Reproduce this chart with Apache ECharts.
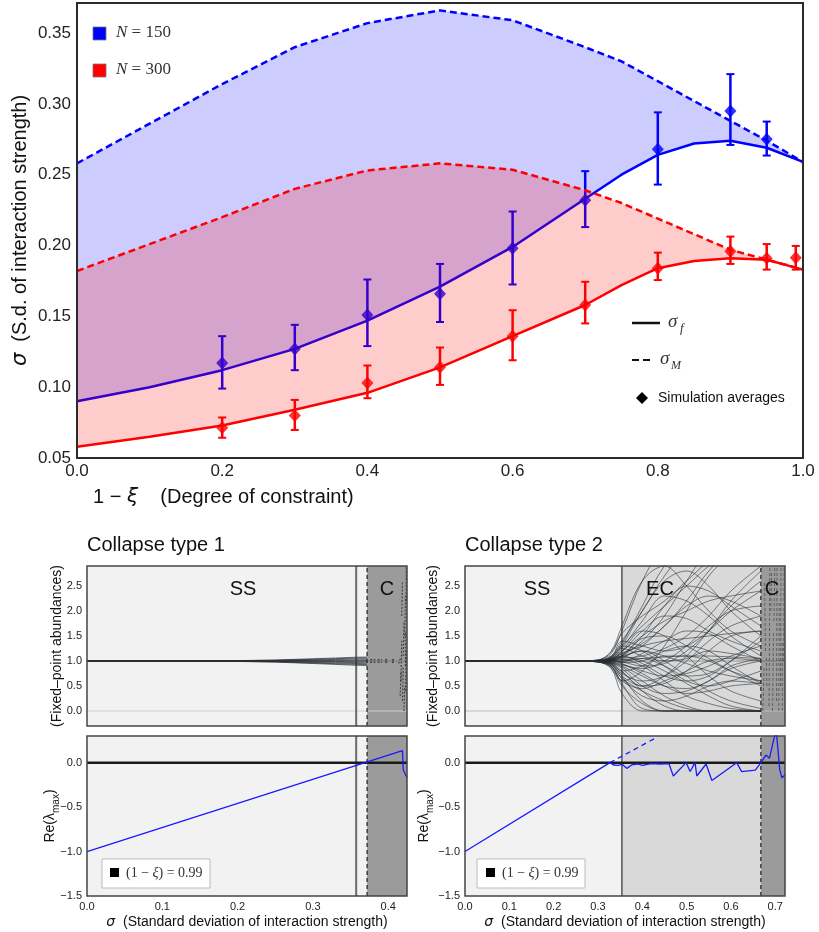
<!DOCTYPE html>
<html><head><meta charset="utf-8">
<script src="https://cdn.jsdelivr.net/npm/echarts@6/dist/echarts.min.js"></script>
<style>html,body{margin:0;padding:0;background:#fff}#c{width:819px;height:932px}</style>
</head><body><div id="c"></div>
<script>
// ---------- Top chart data ----------
const topX    = [0, 0.1, 0.2, 0.3, 0.4, 0.5, 0.6, 0.7, 0.75, 0.8, 0.85, 0.9, 0.95, 1.0];
const sigF150 = [0.090, 0.100, 0.112, 0.127, 0.147, 0.171, 0.199, 0.233, 0.250, 0.264, 0.272, 0.274, 0.269, 0.259];
const sigM150 = [0.258, 0.286, 0.314, 0.340, 0.357, 0.366, 0.359, 0.340, 0.330, 0.316, 0.302, 0.288, 0.274, 0.259];
const sigF300 = [0.058, 0.065, 0.073, 0.084, 0.096, 0.114, 0.136, 0.158, 0.172, 0.184, 0.189, 0.191, 0.190, 0.183];
const sigM300 = [0.182, 0.201, 0.220, 0.240, 0.253, 0.258, 0.2535, 0.239, 0.230, 0.219, 0.208, 0.197, 0.190, 0.183];

const simX150  = [0.2, 0.3, 0.4, 0.5, 0.6, 0.7, 0.8, 0.9, 0.95];
const sim150   = [0.117, 0.127, 0.151, 0.166, 0.198, 0.232, 0.268, 0.295, 0.275];
const sim150Lo = [0.099, 0.112, 0.129, 0.146, 0.1725, 0.213, 0.243, 0.271, 0.2635];
const sim150Hi = [0.136, 0.144, 0.176, 0.187, 0.224, 0.2525, 0.294, 0.321, 0.2875];

const simX300  = [0.2, 0.3, 0.4, 0.5, 0.6, 0.7, 0.8, 0.9, 0.95, 0.99];
const sim300   = [0.0714, 0.080, 0.103, 0.114, 0.136, 0.158, 0.184, 0.196, 0.191, 0.1914];
const sim300Lo = [0.0643, 0.0698, 0.0922, 0.1016, 0.119, 0.145, 0.1756, 0.187, 0.183, 0.183];
const sim300Hi = [0.0786, 0.091, 0.1153, 0.128, 0.1543, 0.1744, 0.195, 0.2063, 0.201, 0.1997];

const topYTicks = [0.05, 0.10, 0.15, 0.20, 0.25, 0.30, 0.35];
const topXTicks = [0, 0.2, 0.4, 0.6, 0.8, 1.0];

// ---------- Collapse type 1 ----------
const c1Bounds = [0.3575, 0.372];
const c1XMax = 0.425;
const bundle1X = [0, 0.1, 0.2, 0.25, 0.3, 0.33, 0.3575, 0.372];
const bundle1 = [
  [1, 1, 1.008, 1.020, 1.045, 1.060, 1.075, 1.080],
  [1, 1, 1.006, 1.015, 1.034, 1.046, 1.058, 1.062],
  [1, 1, 1.004, 1.010, 1.022, 1.031, 1.040, 1.044],
  [1, 1, 1.002, 1.005, 1.011, 1.016, 1.021, 1.023],
  [1, 1, 1.001, 1.001, 1.002, 1.003, 1.004, 1.005],
  [1, 1, 0.999, 0.997, 0.993, 0.990, 0.987, 0.986],
  [1, 1, 0.997, 0.992, 0.982, 0.975, 0.968, 0.965],
  [1, 1, 0.995, 0.987, 0.970, 0.960, 0.950, 0.946],
  [1, 1, 0.993, 0.983, 0.960, 0.946, 0.933, 0.928],
  [1, 1, 0.991, 0.978, 0.950, 0.932, 0.915, 0.910]
];
// collapsed-region marks [x0, y0, x1, y1]
const c1Marks = [
  [0.376, 0.97, 0.383, 0.97], [0.376, 1.0, 0.383, 1.0], [0.376, 1.03, 0.383, 1.03],
  [0.386, 0.97, 0.392, 0.97], [0.386, 1.0, 0.392, 1.0], [0.386, 1.03, 0.392, 1.03],
  [0.396, 0.97, 0.400, 0.97], [0.396, 1.0, 0.400, 1.0], [0.396, 1.03, 0.400, 1.03],
  [0.405, 0.97, 0.409, 0.97], [0.405, 1.0, 0.409, 1.0], [0.405, 1.03, 0.409, 1.03],
  [0.414, 0.95, 0.416, 1.05], [0.417, 0.6, 0.418, 1.4], [0.419, 0.2, 0.420, 0.9],
  [0.420, 1.1, 0.421, 1.8], [0.421, 0.0, 0.422, 0.5], [0.422, 1.5, 0.423, 2.3],
  [0.423, 0.4, 0.424, 1.2], [0.418, 1.9, 0.419, 2.6], [0.424, 2.2, 0.424, 2.9],
  [0.416, 0.3, 0.417, 0.8], [0.423, 0.9, 0.423, 1.6]
];
const lam1X = [0, 0.419, 0.420, 0.425];
const lam1Y = [-1.0, 0.135, -0.08, -0.17];

// ---------- Collapse type 2 ----------
const c2Bounds = [0.354, 0.6675];
const c2XMax = 0.722;
const fan2X = [0, 0.25, 0.30, 0.33, 0.354, 0.40, 0.45, 0.50, 0.55, 0.60, 0.6675];
const fan2 = [
  [1, 1, 1.02, 1.15, 1.60, 2.60, 3.30, 3.5, 3.5, 3.5, 3.5],
  [1, 1, 1.01, 1.10, 1.40, 2.00, 2.70, 3.2, 3.3, 3.3, 3.3],
  [1, 1, 1.01, 1.08, 1.30, 1.70, 2.10, 2.5, 2.9, 3.2, 3.3],
  [1, 1, 1.01, 1.06, 1.20, 1.50, 1.80, 2.0, 2.2, 2.3, 2.4],
  [1, 1, 1.00, 1.05, 1.15, 1.30, 1.40, 1.45, 1.5, 1.55, 1.6],
  [1, 1, 1.00, 1.04, 1.10, 1.20, 1.10, 0.95, 0.8, 0.7, 0.6],
  [1, 1, 1.00, 1.03, 1.08, 1.00, 0.80, 0.55, 0.3, 0.1, 0],
  [1, 1, 1.00, 1.02, 1.05, 1.10, 1.25, 1.5, 1.9, 2.4, 2.9],
  [1, 1, 1.00, 1.01, 1.02, 1.05, 1.08, 1.1, 1.1, 1.08, 1.05],
  [1, 1, 1.00, 0.99, 0.98, 0.90, 0.95, 1.2, 1.6, 2.1, 2.6],
  [1, 1, 1.00, 0.98, 0.94, 0.80, 0.70, 0.75, 0.9, 1.1, 1.3],
  [1, 1, 0.99, 0.96, 0.88, 0.60, 0.30, 0.1, 0, 0, 0],
  [1, 1, 0.99, 0.95, 0.80, 0.40, 0.10, 0, 0, 0, 0],
  [1, 1, 0.99, 0.93, 0.70, 0.20, 0, 0, 0, 0, 0],
  [1, 1, 0.98, 0.90, 0.55, 0.05, 0, 0, 0, 0, 0],
  [1, 1, 0.98, 0.85, 0.35, 0, 0, 0, 0, 0, 0],
  [1, 1, 0.99, 0.92, 0.75, 0.60, 0.70, 1.0, 1.4, 1.7, 1.9],
  [1, 1, 1.00, 1.05, 1.25, 1.80, 2.30, 2.2, 1.9, 1.5, 1.1],
  [1, 1, 1.00, 1.07, 1.35, 2.10, 2.90, 3.3, 3.3, 3.3, 3.3],
  [1, 1, 1.00, 1.02, 1.06, 1.30, 1.70, 2.1, 2.3, 2.2, 1.9],
  [1, 1, 1.00, 1.00, 1.00, 1.15, 1.40, 1.6, 1.55, 1.3, 1.0],
  [1, 1, 1.00, 0.99, 0.97, 1.00, 1.20, 1.3, 1.2, 0.9, 0.55],
  [1, 1, 0.99, 0.97, 0.90, 0.70, 0.50, 0.45, 0.6, 0.9, 1.05],
  [1, 1, 1.00, 1.01, 1.03, 0.90, 0.60, 0.3, 0.15, 0.05, 0],
  [1, 1, 1.00, 1.02, 1.10, 1.40, 1.90, 2.6, 3.2, 3.3, 3.3],
  [1, 1, 1.00, 0.98, 0.92, 0.85, 1.00, 1.3, 1.7, 2.0, 2.1],
  [1, 1, 1.00, 1.03, 1.12, 1.45, 1.50, 1.3, 1.05, 0.8, 0.5],
  [1, 1, 0.99, 0.96, 0.85, 0.50, 0.35, 0.4, 0.6, 0.85, 1.0],
  [1, 1, 1.00, 1.04, 1.18, 1.60, 1.90, 1.85, 1.6, 1.4, 1.2],
  [1, 1, 1.00, 1.00, 0.99, 1.05, 0.90, 0.7, 0.75, 1.0, 1.4],
  [1, 1, 0.99, 0.94, 0.78, 0.50, 0.55, 0.8, 1.2, 1.5, 1.6],
  [1, 1, 1.00, 1.02, 1.08, 1.20, 1.00, 0.7, 0.4, 0.2, 0.05],
  [1, 1, 1.02, 1.20, 1.70, 2.60, 2.90, 2.5, 2.0, 1.6, 1.3],
  [1, 1, 1.00, 1.05, 1.30, 2.00, 2.60, 2.8, 2.5, 2.0, 1.5],
  [1, 1, 0.99, 0.90, 0.60, 0.80, 1.30, 2.0, 2.7, 3.1, 3.3],
  [1, 1, 0.99, 0.95, 0.70, 0.50, 0.70, 1.1, 1.6, 2.2, 2.8],
  [1, 1, 1.01, 1.10, 1.30, 1.20, 0.90, 0.6, 0.5, 0.6, 0.8],
  [1, 1, 1.00, 1.02, 1.20, 1.60, 1.50, 1.1, 0.7, 0.4, 0.2],
  [1, 1, 0.98, 0.88, 0.60, 0.45, 0.60, 0.8, 1.0, 1.05, 1.0],
  [1, 1, 1.00, 1.06, 1.40, 1.30, 1.20, 1.3, 1.6, 2.0, 2.4],
  [1, 1, 1.00, 1.03, 1.15, 1.35, 1.70, 2.2, 2.8, 3.2, 3.3],
  [1, 1, 0.99, 0.97, 0.80, 0.90, 1.10, 1.1, 1.0, 0.8, 0.6],
  [1, 1, 1.00, 1.00, 1.10, 1.50, 2.10, 2.5, 2.4, 2.1, 1.7],
  [1, 1, 0.99, 0.93, 0.65, 0.30, 0.20, 0.3, 0.5, 0.6, 0.55],
  [1, 1, 1.01, 1.08, 1.25, 1.10, 1.00, 1.05, 1.2, 1.15, 1.05],
  [1, 1, 1.00, 1.02, 0.95, 0.75, 0.50, 0.35, 0.4, 0.5, 0.55],
  [1, 1, 1.02, 1.18, 1.55, 1.90, 2.20, 2.6, 3.0, 3.3, 3.3],
  [1, 1, 0.98, 0.86, 0.50, 0.15, 0, 0, 0, 0, 0],
  [1, 1, 0.99, 0.90, 0.65, 0.40, 0.20, 0.05, 0, 0, 0],
  [1, 1, 1.00, 1.04, 1.10, 0.95, 0.70, 0.6, 0.7, 1.0, 1.5]
];
const c2Marks = [
  [0.672, 0.0, 0.675, 0.9], [0.678, 1.2, 0.676, 2.6], [0.686, 0.1, 0.688, 2.9],
  [0.694, 0.0, 0.696, 1.6], [0.697, 1.8, 0.699, 2.9], [0.703, 0.2, 0.704, 2.9],
  [0.708, 0.0, 0.709, 2.2], [0.712, 0.5, 0.713, 2.9], [0.716, 0.0, 0.716, 1.4],
  [0.719, 1.0, 0.720, 2.9], [0.681, 0.5, 0.680, 1.1], [0.690, 2.0, 0.692, 2.8]
];
const lam2X = [0, 0.327, 0.335, 0.345, 0.355, 0.365, 0.376, 0.39, 0.40, 0.42, 0.44, 0.46, 0.470, 0.499, 0.508, 0.519, 0.523, 0.544, 0.557, 0.613, 0.624, 0.655, 0.666, 0.679, 0.687, 0.698, 0.703, 0.71, 0.715, 0.722];
const lam2Y = [-1.0, 0.0, -0.026, -0.03, -0.02, -0.064, -0.026, -0.015, -0.03, -0.01, -0.015, -0.01, -0.15, 0.0, -0.10, 0.0, -0.15, -0.015, -0.20, 0.0, -0.10, -0.085, -0.01, 0.085, 0.05, 0.29, 0.32, -0.075, -0.17, -0.14];
const lam2DashX = [0.327, 0.431];
const lam2DashY = [0.0, 0.28];

const upperYTicks = [0, 0.5, 1.0, 1.5, 2.0, 2.5];
const lowerYTicks = [-1.5, -1.0, -0.5, 0.0];
const c1XTicks = [0, 0.1, 0.2, 0.3, 0.4];
const c2XTicks = [0, 0.1, 0.2, 0.3, 0.4, 0.5, 0.6, 0.7];

// ---------- helpers ----------
const SANS = 'Liberation Sans, Arial, sans-serif';
const SERIF = 'Liberation Serif, DejaVu Serif, serif';
const zip = (xs, ys) => xs.map((x, i) => [x, ys[i]]);
const fmt1 = v => (v < 0 ? '\u2212' : '') + Math.abs(v).toFixed(1);

function band(xs, lo, hi, color, z) {
  return { type: 'custom', xAxisIndex: 0, yAxisIndex: 0, silent: true, z: z,
    data: [[xs[0], lo[0]]],
    renderItem: function (p, api) {
      const pts = [];
      for (let i = 0; i < xs.length; i++) pts.push(api.coord([xs[i], hi[i]]));
      for (let i = xs.length - 1; i >= 0; i--) pts.push(api.coord([xs[i], lo[i]]));
      return { type: 'polygon', shape: { points: pts }, style: { fill: color } };
    } };
}
function errBars(xs, lo, hi, color, z) {
  return { type: 'custom', xAxisIndex: 0, yAxisIndex: 0, silent: true, z: z,
    data: xs.map((x, i) => [x, lo[i], hi[i]]), encode: { x: 0, y: [1, 2] },
    renderItem: function (p, api) {
      const a = api.coord([api.value(0), api.value(1)]);
      const b = api.coord([api.value(0), api.value(2)]);
      const w = 4;
      return { type: 'group', children: [
        { type: 'line', shape: { x1: a[0], y1: a[1], x2: b[0], y2: b[1] }, style: { stroke: color, lineWidth: 2.5 } },
        { type: 'line', shape: { x1: a[0] - w, y1: a[1], x2: a[0] + w, y2: a[1] }, style: { stroke: color, lineWidth: 2 } },
        { type: 'line', shape: { x1: b[0] - w, y1: b[1], x2: b[0] + w, y2: b[1] }, style: { stroke: color, lineWidth: 2 } }
      ] };
    } };
}
function lineS(gi, xs, ys, color, width, dash, smooth, z) {
  return { type: 'line', xAxisIndex: gi, yAxisIndex: gi, data: zip(xs, ys), showSymbol: false, symbol: 'none',
    silent: true, smooth: smooth || false, clip: true, z: z || 2,
    lineStyle: { color: color, width: width, type: dash || 'solid' } };
}
function segs(gi, data, color, width, dash) {
  return { type: 'custom', xAxisIndex: gi, yAxisIndex: gi, silent: true, clip: true,
    data: data, encode: { x: [0, 2], y: [1, 3] },
    renderItem: function (p, api) {
      const a = api.coord([api.value(0), api.value(1)]);
      const b = api.coord([api.value(2), api.value(3)]);
      return { type: 'line', shape: { x1: a[0], y1: a[1], x2: b[0], y2: b[1] },
        style: { stroke: color, lineWidth: width, lineDash: dash || null } };
    } };
}
// regions [x0, x1, colour]
function regions(gi, data, ymin, ymax) {
  return { type: 'custom', xAxisIndex: gi, yAxisIndex: gi, silent: true, z: 1,
    data: data.map(d => [d[0], d[1]]), encode: { x: [0, 1] },
    renderItem: function (p, api) {
      const a = api.coord([api.value(0), ymax]);
      const b = api.coord([api.value(1), ymin]);
      return { type: 'rect', shape: { x: a[0], y: a[1], width: b[0] - a[0], height: b[1] - a[1] },
        style: { fill: data[p.dataIndex][2] } };
    } };
}

const SSc = '#f2f2f2', ECc = '#d9d9d9', Cc = '#9b9b9b';
const bundleColor = 'rgba(40,46,52,0.7)';

const grids = [
  { left: 77, top: 3, width: 726, height: 455 },
  { left: 87, top: 566, width: 320, height: 160 },
  { left: 87, top: 736, width: 320, height: 160 },
  { left: 465, top: 566, width: 320, height: 160 },
  { left: 465, top: 736, width: 320, height: 160 }
].map((g, i) => Object.assign(g, { show: true, z: 10, backgroundColor: 'transparent',
  borderColor: i === 0 ? '#2b2b2b' : '#444', borderWidth: i === 0 ? 2 : 1.5 }));

const hidden = { axisLine: { show: false }, axisTick: { show: false }, splitLine: { show: false }, nameMoveOverlap: false };
const smallLbl = { fontSize: 11, color: '#222', fontFamily: SANS, margin: 5 };
const xName = { name: '{s|σ}{t|  (Standard deviation of interaction strength)}', nameLocation: 'middle', nameGap: 19,
  nameTextStyle: { rich: { s: { fontFamily: 'DejaVu Sans', fontStyle: 'italic', fontSize: 14, color: '#111' },
    t: { fontFamily: SANS, fontSize: 14, color: '#111' } } } };

const xAxes = [
  Object.assign({ gridIndex: 0, type: 'value', min: 0, max: 1,
    axisLabel: { customValues: topXTicks, formatter: v => v.toFixed(1), fontSize: 17, color: '#222', fontFamily: SANS, margin: 5 } }, hidden),
  Object.assign({ gridIndex: 1, type: 'value', min: 0, max: c1XMax, axisLabel: { show: false } }, hidden),
  Object.assign({ gridIndex: 2, type: 'value', min: 0, max: c1XMax,
    axisLabel: Object.assign({ customValues: c1XTicks, formatter: v => v.toFixed(1) }, smallLbl) }, xName, hidden),
  Object.assign({ gridIndex: 3, type: 'value', min: 0, max: c2XMax, axisLabel: { show: false } }, hidden),
  Object.assign({ gridIndex: 4, type: 'value', min: 0, max: c2XMax,
    axisLabel: Object.assign({ customValues: c2XTicks, formatter: v => v.toFixed(1) }, smallLbl) }, xName, hidden)
];
const upperName = { name: '(Fixed\u2013point abundances)', nameLocation: 'middle', nameRotate: 90,
  nameTextStyle: { fontFamily: SANS, fontSize: 14, color: '#111' } };
const lowerName = { name: '{a|Re(λ}{b|max}{a|)}', nameLocation: 'middle', nameRotate: 90,
  nameTextStyle: { rich: { a: { fontFamily: SANS, fontSize: 14, color: '#111', lineHeight: 22, verticalAlign: 'middle' },
    b: { fontFamily: SANS, fontSize: 10, color: '#111', lineHeight: 12, verticalAlign: 'bottom' } } } };
const yAxes = [
  Object.assign({ gridIndex: 0, type: 'value', min: 0.05, max: 0.3712,
    axisLabel: { customValues: topYTicks, formatter: v => v.toFixed(2), fontSize: 17, color: '#222', fontFamily: SANS, margin: 6 },
    name: '{s|σ}{t|  (S.d. of interaction strength)}', nameLocation: 'middle', nameRotate: 90, nameGap: 46,
    nameTextStyle: { rich: { s: { fontFamily: 'DejaVu Sans', fontStyle: 'italic', fontSize: 21, color: '#111' },
      t: { fontFamily: SANS, fontSize: 20, color: '#111' } } } }, hidden),
  Object.assign({ gridIndex: 1, type: 'value', min: -0.3, max: 2.9,
    axisLabel: Object.assign({ customValues: upperYTicks, formatter: fmt1 }, smallLbl) }, upperName, hidden, { nameGap: 23 }),
  Object.assign({ gridIndex: 2, type: 'value', min: -1.5, max: 0.3,
    axisLabel: Object.assign({ customValues: lowerYTicks, formatter: fmt1 }, smallLbl) }, lowerName, hidden, { nameGap: 26 }),
  Object.assign({ gridIndex: 3, type: 'value', min: -0.3, max: 2.9,
    axisLabel: Object.assign({ customValues: upperYTicks, formatter: fmt1 }, smallLbl) }, upperName, hidden, { nameGap: 25 }),
  Object.assign({ gridIndex: 4, type: 'value', min: -1.5, max: 0.3,
    axisLabel: Object.assign({ customValues: lowerYTicks, formatter: fmt1 }, smallLbl) }, lowerName, hidden, { nameGap: 30 })
];

const series = [];
// ---- top chart (explicit z to control stacking of translucent fills) ----
series.push(band(topX, sigF150, sigM150, 'rgba(0,0,255,0.2)', 2));
series.push(lineS(0, topX, sigF150, '#0000ff', 2.5, null, false, 3));
series.push(lineS(0, topX, sigM150, '#0000ff', 2.5, [7, 4], false, 3));
series.push(errBars(simX150, sim150Lo, sim150Hi, '#0000ff', 3));
series.push({ type: 'scatter', xAxisIndex: 0, yAxisIndex: 0, data: zip(simX150, sim150), symbol: 'diamond', z: 3,
  symbolSize: [12, 13], itemStyle: { color: '#0000ff' }, silent: true });
series.push(band(topX, sigF300, sigM300, 'rgba(255,0,0,0.2)', 4));
series.push(lineS(0, topX, sigF300, '#ff0000', 2.5, null, false, 5));
series.push(lineS(0, topX, sigM300, '#ff0000', 2.5, [7, 4], false, 5));
series.push(errBars(simX300, sim300Lo, sim300Hi, '#ff0000', 5));
series.push({ type: 'scatter', xAxisIndex: 0, yAxisIndex: 0, data: zip(simX300, sim300), symbol: 'diamond', z: 5,
  symbolSize: [12, 13], itemStyle: { color: '#ff0000' }, silent: true });

// ---- collapse type 1 ----
series.push(regions(1, [[0, c1Bounds[1], SSc], [c1Bounds[1], c1XMax, Cc]], -0.3, 2.9));
series.push(regions(2, [[0, c1Bounds[1], SSc], [c1Bounds[1], c1XMax, Cc]], -1.5, 0.3));
series.push(segs(1, [[0, 0, c1XMax, 0]], '#cfcfcf', 1));
series.push(segs(1, [[0, 1, c1XMax, 1]], 'rgba(90,90,90,0.5)', 1));
bundle1.forEach(c => series.push(lineS(1, bundle1X, c, bundleColor, 1)));
series.push(segs(1, c1Marks, 'rgba(40,46,52,0.75)', 1.2, [2, 1.5]));
[1, 2].forEach(g => {
  const lo = g === 1 ? -0.3 : -1.5, hi = g === 1 ? 2.9 : 0.3;
  series.push(segs(g, [[c1Bounds[0], lo, c1Bounds[0], hi]], '#6a6a6a', 2));
  series.push(segs(g, [[c1Bounds[1], lo, c1Bounds[1], hi]], '#2a2a2a', 1.3, [4, 3]));
});
series.push(segs(2, [[0, 0, c1XMax, 0]], '#1a1a1a', 2.5));
series.push(lineS(2, lam1X, lam1Y, '#1a1aff', 1.3));

// ---- collapse type 2 ----
const r2 = [[0, c2Bounds[0], SSc], [c2Bounds[0], c2Bounds[1], ECc], [c2Bounds[1], c2XMax, Cc]];
series.push(regions(3, r2, -0.3, 2.9));
series.push(regions(4, r2, -1.5, 0.3));
series.push(segs(3, [[0, 0, c2XMax, 0]], '#bdbdbd', 1));
series.push(segs(3, [[0, 1, c2XMax, 1]], 'rgba(90,90,90,0.5)', 1));
fan2.forEach(c => series.push(lineS(3, fan2X, c, 'rgba(40,46,52,0.65)', 0.9, null, 0.35)));
series.push(segs(3, c2Marks, 'rgba(40,46,52,0.55)', 1, [3, 2]));
[3, 4].forEach(g => {
  const lo = g === 3 ? -0.3 : -1.5, hi = g === 3 ? 2.9 : 0.3;
  series.push(segs(g, [[c2Bounds[0], lo, c2Bounds[0], hi]], '#555', 1.5));
  series.push(segs(g, [[c2Bounds[1], lo, c2Bounds[1], hi]], '#2a2a2a', 1.3, [4, 3]));
});
series.push(segs(4, [[0, 0, c2XMax, 0]], '#1a1a1a', 2.5));
series.push(lineS(4, lam2X, lam2Y, '#1a1aff', 1.3));
series.push(lineS(4, lam2DashX, lam2DashY, '#1a1aff', 1.3, [5, 4]));

// ---- graphics: legends, titles, region labels ----
const T = (x, y, text, font, extra) => ({ type: 'text', x: x, y: y, z: 100,
  style: Object.assign({ text: text, font: font, fill: '#111', verticalAlign: 'middle', align: 'left' }, extra || {}) });
const graphic = [
  { type: 'rect', shape: { x: 93, y: 27, width: 13, height: 13 }, style: { fill: '#0000ff', stroke: '#777', lineWidth: 0.8 }, z: 100 },
  { type: 'rect', shape: { x: 93, y: 64, width: 13, height: 13 }, style: { fill: '#ff0000', stroke: '#777', lineWidth: 0.8 }, z: 100 },
  { type: 'text', x: 116, y: 33, z: 100, style: { text: '{i|N} = 150', verticalAlign: 'middle',
    rich: { i: { fontFamily: SERIF, fontStyle: 'italic', fontSize: 17, fill: '#333' } }, fontFamily: SERIF, fontSize: 17, fill: '#333' } },
  { type: 'text', x: 116, y: 70, z: 100, style: { text: '{i|N} = 300', verticalAlign: 'middle',
    rich: { i: { fontFamily: SERIF, fontStyle: 'italic', fontSize: 17, fill: '#333' } }, fontFamily: SERIF, fontSize: 17, fill: '#333' } },
  { type: 'line', shape: { x1: 632, y1: 323, x2: 660, y2: 323 }, style: { stroke: '#111', lineWidth: 2.5 }, z: 100 },
  T(668, 322, 'σ', 'italic 19px ' + SERIF, { fill: '#333' }),
  T(680, 329, 'f', 'italic 13px ' + SERIF, { fill: '#333' }),
  { type: 'line', shape: { x1: 632, y1: 360, x2: 651, y2: 360 }, style: { stroke: '#111', lineWidth: 2, lineDash: [7, 4] }, z: 100 },
  T(660, 359, 'σ', 'italic 19px ' + SERIF, { fill: '#333' }),
  T(671, 366, 'M', 'italic 12px ' + SERIF, { fill: '#333' }),
  { type: 'polygon', shape: { points: [[642, 392], [648, 398], [642, 404], [636, 398]] }, style: { fill: '#000' }, z: 100 },
  T(658, 398, 'Simulation averages', '14px ' + SANS),
  { type: 'text', x: 93, y: 497, z: 100, style: { text: '1 \u2212 {i|ξ}    (Degree of constraint)', verticalAlign: 'middle',
    fontFamily: SANS, fontSize: 20, fill: '#111',
    rich: { i: { fontFamily: 'DejaVu Sans', fontStyle: 'italic', fontSize: 20, fill: '#111' } } } },
  T(87, 545, 'Collapse type 1', '20px ' + SANS),
  T(465, 545, 'Collapse type 2', '20px ' + SANS),
  T(243, 589, 'SS', '20px ' + SANS, { align: 'center' }),
  T(387, 589, 'C', '20px ' + SANS, { align: 'center' }),
  T(537, 589, 'SS', '20px ' + SANS, { align: 'center' }),
  T(660, 589, 'EC', '20px ' + SANS, { align: 'center' }),
  T(772, 589, 'C', '20px ' + SANS, { align: 'center' })
];
[[102, 110, 126], [477, 486, 502]].forEach(p => {
  graphic.push({ type: 'rect', shape: { x: p[0], y: 859, width: 108, height: 29 }, style: { fill: '#fff', stroke: '#bbb', lineWidth: 1 }, z: 100 });
  graphic.push({ type: 'rect', shape: { x: p[1], y: 868, width: 9, height: 9 }, style: { fill: '#000' }, z: 101 });
  graphic.push({ type: 'text', x: p[2], y: 873, z: 101, style: { text: '(1 \u2212 {i|ξ}) = 0.99', verticalAlign: 'middle',
    fontFamily: SERIF, fontSize: 14, fill: '#333', rich: { i: { fontFamily: SERIF, fontStyle: 'italic', fontSize: 14, fill: '#333' } } } });
});

const chart = echarts.init(document.getElementById('c'));
chart.setOption({ animation: false, backgroundColor: '#fff', grid: grids, xAxis: xAxes, yAxis: yAxes, series: series, graphic: graphic });
</script></body></html>
